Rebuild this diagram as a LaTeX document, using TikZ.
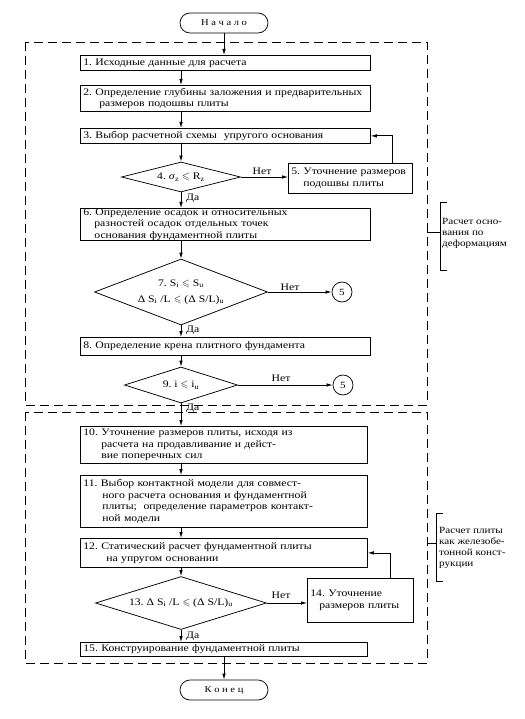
\documentclass[tikz,border=0pt]{standalone}
\usepackage{amssymb}
\usepackage{fontspec}
\setmainfont{Liberation Serif}[FakeStretch=1.17]
\usetikzlibrary{shapes.geometric,arrows.meta}
\newcommand\tsub[1]{\textsubscript{#1}}
\newcommand\nb[1]{\mbox{#1}}
\frenchspacing
\begin{document}
\begin{tikzpicture}[x=1pt,y=-1pt,
  lw/.style={line width=0.75pt},
  box/.style={draw, lw, anchor=north west, align=left, inner xsep=3pt, inner ysep=0pt,
    font=\fontsize{10}{11.5}\selectfont},
  dia/.style={diamond, draw, lw, inner sep=0pt},
  dtext/.style={font=\fontsize{10}{16}\selectfont, align=center, inner sep=0pt},
  circ/.style={circle, draw, lw, minimum size=20pt, inner sep=0pt, font=\fontsize{9.5}{10}\selectfont},
  term/.style={draw, lw, rounded corners=10pt, minimum width=88pt, minimum height=20pt, inner sep=0pt,
    font=\fontsize{9}{10}\selectfont},
  arr/.style={lw, -{Latex[length=6pt,width=3.5pt]}},
  lbl/.style={font=\fontsize{10}{11}\selectfont, inner sep=0pt},
  side/.style={font=\fontsize{9.5}{11}\selectfont, align=left, anchor=west, inner sep=0pt},
  dbox/.style={lw, dash pattern=on 9pt off 5pt}
]
\fill[white] (0,0) rectangle (524,719);
\useasboundingbox (0,0) rectangle (524,719);

% dashed groups
\draw[dbox] (25,42) rectangle (427,405);
\draw[dbox] (25,412) rectangle (427,663);

\coordinate (ax) at (181,0);

\node[term] (st) at (224,23) {Н а ч а л о};
\node[box, text width=284pt, minimum height=15pt] (b1) at (80,55) {\nb{1. Исходные данные для расчета}};
\node[box, text width=284pt, minimum height=26pt] (b2) at (80,85) {\nb{2. Определение глубины заложения и предварительных}\\\nb{\hspace*{16pt}размеров подошвы плиты}};
\node[box, text width=284pt, minimum height=15pt] (b3) at (80,128) {\nb{3. Выбор расчетной схемы\ \ упругого основания}};
\node[dia, minimum width=119pt, minimum height=30pt] (d4) at (181,177) {};
\node[dtext] (t4) at (d4) {4. \textit{σ}\tsub{z} $\leqslant$ R\tsub{z}};
\node[box, text width=118pt, minimum height=30pt] (b5) at (288,163) {\nb{5. Уточнение размеров}\\\nb{\hspace*{12pt}подошвы плиты}};
\node[box, text width=284pt, minimum height=32pt] (b6) at (80,208) {\nb{6. Определение осадок и относительных}\\\nb{\hspace*{11pt}разностей осадок отдельных точек}\\\nb{\hspace*{11pt}основания фундаментной плиты}};
\node[dia, minimum width=173pt, minimum height=66pt] (d7) at (181,292) {};
\node[dtext] (t7) at (d7) {7. S\tsub{i} $\leqslant$ S\tsub{u}\\ Δ S\tsub{i} /L $\leqslant$ (Δ S/L)\tsub{u}};
\node[circ] (c1) at (342,292) {5};
\node[box, text width=284pt, minimum height=18pt] (b8) at (80,337) {\nb{8. Определение крена плитного фундамента}};
\node[dia, minimum width=113pt, minimum height=36pt] (d9) at (181,385) {};
\node[dtext] (t9) at (d9) {9. i $\leqslant$ i\tsub{u}};
\node[circ] (c2) at (343,385) {5};
\node[box, text width=281pt, minimum height=37pt] (b10) at (80,426) {\nb{10. Уточнение размеров плиты, исходя из}\\\nb{\hspace*{18pt}расчета на продавливание и дейст-}\\\nb{\hspace*{18pt}вие поперечных сил}};
\node[box, text width=281pt, minimum height=52pt] (b11) at (80,475) {\nb{11. Выбор контактной модели для совмест-}\\\nb{\hspace*{19pt}ного расчета основания и фундаментной}\\\nb{\hspace*{19pt}плиты;\ \ определение параметров контакт-}\\\nb{\hspace*{19pt}ной модели}};
\node[box, text width=281pt, minimum height=29pt] (b12) at (80,538) {\nb{12. Статический расчет фундаментной плиты}\\\nb{\hspace*{23pt}на упругом основании}};
\node[dia, minimum width=171pt, minimum height=53pt] (d13) at (181,603) {};
\node[dtext] (t13) at (d13) {13. Δ S\tsub{i} /L $\leqslant$ (Δ S/L)\tsub{u}};
\node[box, text width=100pt, minimum height=44pt] (b14) at (307,578) {\nb{14. Уточнение}\\\nb{\hspace*{9pt}размеров плиты}};
\node[box, text width=281pt, minimum height=14pt] (b15) at (80,642) {\nb{15. Конструирование фундаментной плиты}};
\node[term] (en) at (224,690) {К о н е ц};

% connectors
\draw[arr] (st.south) -- (st.south |- b1.north);
\draw[arr] (b1.south -| ax) -- (b2.north -| ax);
\draw[arr] (b2.south -| ax) -- (b3.north -| ax);
\draw[arr] (b3.south -| ax) -- (d4.north);
\draw[arr] (d4.east) -- (b5.west |- d4.east);
\draw[arr] ([xshift=42pt]b5.north) |- (b3.east);
\draw[arr] (d4.south) -- (b6.north -| ax);
\draw[arr] (b6.south -| ax) -- (d7.north);
\draw[arr] (d7.east) -- (c1.west);
\draw[arr] (d7.south) -- (b8.north -| ax);
\draw[arr] (b8.south -| ax) -- (d9.north);
\draw[arr] (d9.east) -- (c2.west);
\draw[arr] (d9.south) -- (b10.north -| ax);
\draw[arr] (b10.south -| ax) -- (b11.north -| ax);
\draw[arr] (b11.south -| ax) -- (b12.north -| ax);
\draw[arr] (b12.south -| ax) -- (d13.north);
\draw[arr] (d13.east) -- (b14.west |- d13.east);
\draw[arr] ([xshift=30pt]b14.north) |- (b12.east);
\draw[arr] (d13.south) -- (b15.north -| ax);
\draw[arr] (b15.south -| en) -- (en.north);

% labels
\node[lbl] (n1) at (262,171) {Нет};
\node[lbl] (n2) at (290,287) {Нет};
\node[lbl] (n3) at (281,378) {Нет};
\node[lbl] (n4) at (281,595) {Нет};
\node[lbl, anchor=west] (y1) at (186,198) {Да};
\node[lbl, anchor=west] (y2) at (186,330) {Да};
\node[lbl, anchor=west] (y3) at (186,408) {Да};
\node[lbl, anchor=west] (y4) at (186,636) {Да};

% side brackets
\draw[lw] (447,202) -- (440,202) -- (440,270) -- (447,270);
\draw[lw] (427,232) -- (440,232);
\node[side] (s1) at (442,233) {Расчет осно-\\вания по\\деформациям};
\draw[lw] (443,513) -- (436,513) -- (436,581) -- (443,581);
\draw[lw] (427,543) -- (436,543);
\node[side] (s2) at (439,548) {Расчет плиты\\как железобе-\\тонной конст-\\рукции};
\end{tikzpicture}
\end{document}
